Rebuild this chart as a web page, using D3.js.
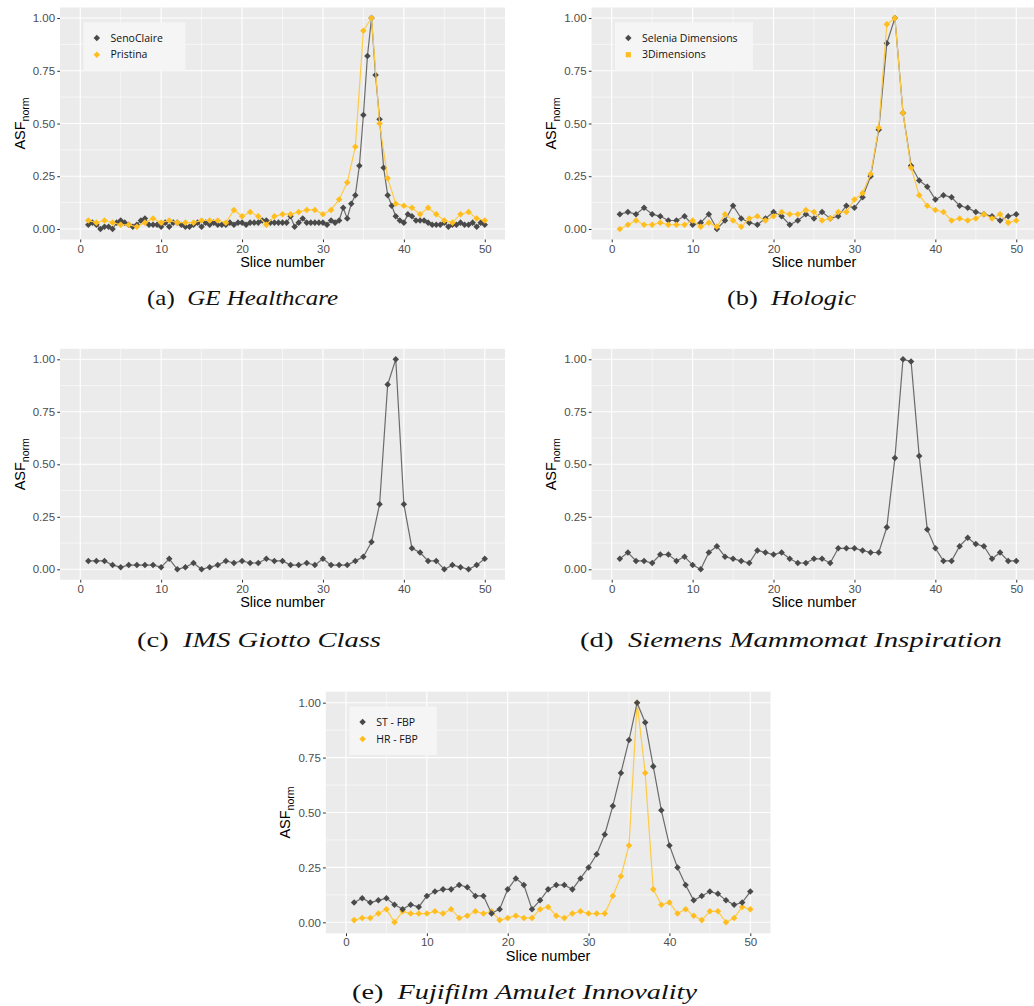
<!DOCTYPE html>
<html>
<head>
<meta charset="utf-8">
<script src="https://cdn.jsdelivr.net/npm/d3@7"></script>
<style>
  html, body { margin: 0; padding: 0; background: #fff; }
  svg { display: block; }
</style>
</head>
<body>
<svg id="fig" width="1034" height="1006"></svg>
<script>
// ---- data -------------------------------------------------------------
const sliceTicks = [0, 10, 20, 30, 40, 50];
const asfTicks = [0, 0.25, 0.5, 0.75, 1.0];

// slice numbers: whole slices and half slices (SenoClaire is sampled every 0.5)
const slices = d3.range(1, 51);
const halfSlices = d3.range(1, 50.5, 0.5);

const senoClaire = [
  0.02, 0.03, 0.02, 0.00, 0.01, 0.01, 0.00, 0.03, 0.04, 0.03,
  0.02, 0.01, 0.02, 0.04, 0.05, 0.02, 0.02, 0.02, 0.01, 0.03,
  0.01, 0.03, 0.03, 0.02, 0.01, 0.01, 0.02, 0.03, 0.01, 0.03,
  0.02, 0.03, 0.02, 0.02, 0.02, 0.03, 0.02, 0.03, 0.03, 0.02,
  0.03,
  0.03, 0.03, 0.04, 0.04, 0.03, 0.03, 0.03, 0.03, 0.03, 0.06,
  0.01, 0.03, 0.05, 0.03, 0.03, 0.03, 0.03, 0.03, 0.02, 0.04,
  0.03, 0.04, 0.10, 0.05, 0.12, 0.16, 0.30, 0.54, 0.82, 1.00,
  0.73, 0.52, 0.29, 0.16, 0.11, 0.06, 0.04, 0.03, 0.07, 0.06,
  0.04, 0.04, 0.04, 0.03, 0.02, 0.02, 0.02, 0.03, 0.01, 0.02,
  0.02, 0.03, 0.02, 0.02, 0.03, 0.01, 0.03, 0.02
];
const pristina = [
  0.04, 0.03, 0.04, 0.03, 0.02, 0.02, 0.01, 0.03, 0.05, 0.03,
  0.04, 0.03, 0.03, 0.03, 0.04, 0.04, 0.04, 0.03, 0.09, 0.06,
  0.08, 0.06, 0.02, 0.06, 0.07, 0.07, 0.08, 0.09, 0.09, 0.07,
  0.09, 0.14, 0.22, 0.39, 0.94, 1.00, 0.50, 0.24, 0.12, 0.11,
  0.10, 0.07, 0.10, 0.07, 0.04, 0.03, 0.07, 0.08, 0.05, 0.04
];
const seleniaDimensions = [
  0.07, 0.08, 0.07, 0.10, 0.07, 0.06, 0.04, 0.04, 0.06, 0.02,
  0.03, 0.07, 0.00, 0.04, 0.11, 0.05, 0.03, 0.02, 0.05, 0.08,
  0.06, 0.02, 0.04, 0.07, 0.05, 0.08, 0.05, 0.06, 0.11, 0.10,
  0.15, 0.25, 0.47, 0.88, 1.00, 0.55, 0.30, 0.23, 0.20, 0.14,
  0.16, 0.15, 0.11, 0.10, 0.08, 0.07, 0.06, 0.04, 0.06, 0.07
];
const threeDimensions = [
  0.00, 0.02, 0.04, 0.02, 0.02, 0.03, 0.02, 0.02, 0.02, 0.04,
  0.01, 0.03, 0.01, 0.07, 0.04, 0.01, 0.05, 0.06, 0.04, 0.06,
  0.08, 0.07, 0.07, 0.09, 0.08, 0.04, 0.05, 0.08, 0.08, 0.14,
  0.17, 0.26, 0.48, 0.97, 1.00, 0.55, 0.29, 0.16, 0.11, 0.09,
  0.08, 0.04, 0.05, 0.04, 0.05, 0.07, 0.05, 0.07, 0.03, 0.04
];
const giottoClass = [
  0.04, 0.04, 0.04, 0.02, 0.01, 0.02, 0.02, 0.02, 0.02, 0.01,
  0.05, 0.00, 0.01, 0.03, 0.00, 0.01, 0.02, 0.04, 0.03, 0.04,
  0.03, 0.03, 0.05, 0.04, 0.04, 0.02, 0.02, 0.03, 0.02, 0.05,
  0.02, 0.02, 0.02, 0.04, 0.06, 0.13, 0.31, 0.88, 1.00, 0.31,
  0.10, 0.08, 0.04, 0.04, 0.00, 0.02, 0.01, 0.00, 0.02, 0.05
];
const mammomatInspiration = [
  0.05, 0.08, 0.04, 0.04, 0.03, 0.07, 0.07, 0.04, 0.06, 0.02,
  0.00, 0.08, 0.11, 0.06, 0.05, 0.04, 0.03, 0.09, 0.08, 0.07,
  0.08, 0.05, 0.03, 0.03, 0.05, 0.05, 0.03, 0.10, 0.10, 0.10,
  0.09, 0.08, 0.08, 0.20, 0.53, 1.00, 0.99, 0.54, 0.19, 0.10,
  0.04, 0.04, 0.11, 0.15, 0.12, 0.11, 0.05, 0.08, 0.04, 0.04
];
const stFBP = [
  0.09, 0.11, 0.09, 0.10, 0.11, 0.08, 0.06, 0.08, 0.07, 0.12,
  0.14, 0.15, 0.15, 0.17, 0.16, 0.12, 0.12, 0.04, 0.06, 0.15,
  0.20, 0.17, 0.06, 0.10, 0.15, 0.17, 0.17, 0.15, 0.20, 0.25,
  0.31, 0.40, 0.53, 0.68, 0.83, 1.00, 0.91, 0.71, 0.51, 0.35,
  0.25, 0.17, 0.10, 0.12, 0.14, 0.13, 0.10, 0.08, 0.09, 0.14
];
const hrFBP = [
  0.01, 0.02, 0.02, 0.04, 0.06, 0.00, 0.05, 0.04, 0.04, 0.04,
  0.05, 0.04, 0.06, 0.02, 0.03, 0.05, 0.04, 0.05, 0.01, 0.02,
  0.03, 0.02, 0.02, 0.06, 0.07, 0.03, 0.02, 0.04, 0.05, 0.04,
  0.04, 0.04, 0.12, 0.21, 0.35, 1.00, 0.68, 0.15, 0.08, 0.09,
  0.04, 0.06, 0.03, 0.01, 0.05, 0.05, 0.00, 0.02, 0.07, 0.06
];

// ---- styling ----------------------------------------------------------
const DARK = "#4a4a4a";
const GOLD = "#FFBE1E";
const LINE_DARK = "#6b6b6b";
const LINE_GOLD = "#FFCB45";

// ---- panels -----------------------------------------------------------
const panels = [
  { left: 60, top: 7.5, width: 445, height: 232,
    caption: { tag: "(a)", name: "GE Healthcare", cx: 242.5, y: 305, w: 191 },
    series: [
      { name: "SenoClaire", x: halfSlices, y: senoClaire, color: DARK, line: LINE_DARK, key: "diamond" },
      { name: "Pristina", x: slices, y: pristina, color: GOLD, line: LINE_GOLD, key: "diamond" }
    ],
    legendWidth: 102 },
  { left: 591.5, top: 7.5, width: 445, height: 232,
    caption: { tag: "(b)", name: "Hologic", cx: 791.5, y: 305, w: 129 },
    series: [
      { name: "Selenia Dimensions", x: slices, y: seleniaDimensions, color: DARK, line: LINE_DARK, key: "diamond" },
      { name: "3Dimensions", x: slices, y: threeDimensions, color: GOLD, line: LINE_GOLD, key: "square" }
    ],
    legendWidth: 138 },
  { left: 60, top: 348.8, width: 445, height: 231,
    caption: { tag: "(c)", name: "IMS Giotto Class", cx: 259, y: 647, w: 244 },
    series: [
      { name: "Giotto Class", x: slices, y: giottoClass, color: DARK, line: LINE_DARK }
    ] },
  { left: 591.5, top: 348.8, width: 445, height: 231,
    caption: { tag: "(d)", name: "Siemens Mammomat Inspiration", cx: 791, y: 647, w: 422 },
    series: [
      { name: "Mammomat Inspiration", x: slices, y: mammomatInspiration, color: DARK, line: LINE_DARK }
    ] },
  { left: 325.8, top: 691.7, width: 444.7, height: 241.6,
    caption: { tag: "(e)", name: "Fujifilm Amulet Innovality", cx: 524.5, y: 999, w: 345 },
    series: [
      { name: "HR - FBP", x: slices, y: hrFBP, color: GOLD, line: LINE_GOLD, key: "diamond" },
      { name: "ST - FBP", x: slices, y: stFBP, color: DARK, line: LINE_DARK, key: "diamond" }
    ],
    legendOrder: [1, 0],
    legendWidth: 87.5 }
];

const svg = d3.select("#fig");
const diamond = d3.symbol().type(d3.symbolDiamond2).size(27);

function drawPanel(p) {
  const x = d3.scaleLinear().domain([-2.5, 52.5]).range([p.left, p.left + p.width]);
  const y = d3.scaleLinear().domain([-0.05, 1.05]).range([p.top + p.height, p.top]);
  const g = svg.append("g");

  // background
  g.append("rect")
    .attr("x", p.left).attr("y", p.top)
    .attr("width", p.width).attr("height", p.height)
    .attr("fill", "#EBEBEB");

  // minor grid
  const minorX = [5, 15, 25, 35, 45];
  const minorY = [0.125, 0.375, 0.625, 0.875];
  g.selectAll(".mx").data(minorX).join("line")
    .attr("x1", d => x(d)).attr("x2", d => x(d))
    .attr("y1", p.top).attr("y2", p.top + p.height)
    .attr("stroke", "#fff").attr("stroke-width", 0.55);
  g.selectAll(".my").data(minorY).join("line")
    .attr("x1", p.left).attr("x2", p.left + p.width)
    .attr("y1", d => y(d)).attr("y2", d => y(d))
    .attr("stroke", "#fff").attr("stroke-width", 0.55);
  // major grid
  g.selectAll(".gx").data(sliceTicks).join("line")
    .attr("x1", d => x(d)).attr("x2", d => x(d))
    .attr("y1", p.top).attr("y2", p.top + p.height)
    .attr("stroke", "#fff").attr("stroke-width", 1.1);
  g.selectAll(".gy").data(asfTicks).join("line")
    .attr("x1", p.left).attr("x2", p.left + p.width)
    .attr("y1", d => y(d)).attr("y2", d => y(d))
    .attr("stroke", "#fff").attr("stroke-width", 1.1);

  // axes
  const ax = g.append("g")
    .attr("transform", `translate(0,${p.top + p.height})`)
    .call(d3.axisBottom(x).tickValues(sliceTicks).tickSize(2.75).tickPadding(2.2));
  const ay = g.append("g")
    .attr("transform", `translate(${p.left},0)`)
    .call(d3.axisLeft(y).tickValues(asfTicks).tickFormat(d3.format(".2f")).tickSize(2.75).tickPadding(2.2));
  [ax, ay].forEach(a => {
    a.select(".domain").remove();
    a.selectAll("line").attr("stroke", "#333").attr("stroke-width", 1);
    a.selectAll("text").attr("fill", "#4D4D4D")
      .style("font-family", "'Liberation Sans', Arial, sans-serif")
      .style("font-size", "11.5px");
  });

  // axis titles
  g.append("text")
    .attr("x", p.left + p.width / 2)
    .attr("y", p.top + p.height + 27.5)
    .attr("text-anchor", "middle")
    .style("font-family", "'Liberation Sans', Arial, sans-serif")
    .style("font-size", "14.5px")
    .attr("fill", "#000")
    .text("Slice number");

  const yt = g.append("text")
    .attr("transform", `translate(${p.left - 35.5},${p.top + p.height / 2}) rotate(-90)`)
    .attr("text-anchor", "middle")
    .style("font-family", "'Liberation Sans', Arial, sans-serif")
    .style("font-size", "14.5px")
    .attr("fill", "#000");
  yt.append("tspan").text("ASF");
  yt.append("tspan").attr("dy", 4).style("font-size", "10.5px").text("norm");

  // series: lines then points
  p.series.forEach(s => {
    const pts = s.x.map((xv, i) => [xv, s.y[i]]);
    g.append("path")
      .datum(pts)
      .attr("fill", "none")
      .attr("stroke", s.line)
      .attr("stroke-width", 1.2)
      .attr("d", d3.line().x(d => x(d[0])).y(d => y(d[1])));
    g.append("g").selectAll("path").data(pts).join("path")
      .attr("transform", d => `translate(${x(d[0])},${y(d[1])})`)
      .attr("d", diamond)
      .attr("fill", s.color);
  });

  // legend
  if (p.legendWidth) {
    const order = p.legendOrder || p.series.map((_, i) => i);
    const lx = p.left + 23.5, ly = p.top + 14.8;
    const lg = g.append("g");
    lg.append("rect")
      .attr("x", lx).attr("y", ly)
      .attr("width", p.legendWidth).attr("height", 48.5)
      .attr("fill", "#F5F5F5");
    order.forEach((si, k) => {
      const s = p.series[si];
      const cy = ly + 15.6 + k * 16.8;
      if (s.key === "square") {
        lg.append("rect")
          .attr("x", lx + 13.3 - 2.6).attr("y", cy - 2.6)
          .attr("width", 5.2).attr("height", 5.2)
          .attr("fill", s.color);
      } else {
        lg.append("path")
          .attr("transform", `translate(${lx + 13.3},${cy})`)
          .attr("d", diamond)
          .attr("fill", s.color);
      }
      lg.append("text")
        .attr("x", lx + 27).attr("y", cy)
        .attr("dy", "0.35em")
        .style("font-family", "'Open Sans', sans-serif")
        .style("font-size", "10.5px")
        .attr("fill", "#111")
        .text(s.name);
    });
  }

  // caption: upright tag followed by italic name, fitted to its set width
  const c = svg.append("text")
    .attr("x", p.caption.cx).attr("y", p.caption.y)
    .attr("text-anchor", "middle")
    .attr("textLength", p.caption.w)
    .attr("lengthAdjust", "spacingAndGlyphs")
    .style("font-family", "'Liberation Serif', 'Times New Roman', serif")
    .style("font-size", "22px")
    .attr("fill", "#111");
  c.append("tspan").text(p.caption.tag + "\u00a0\u00a0");
  c.append("tspan").style("font-style", "italic").text(p.caption.name);
}

panels.forEach(drawPanel);
</script>
</body>
</html>
